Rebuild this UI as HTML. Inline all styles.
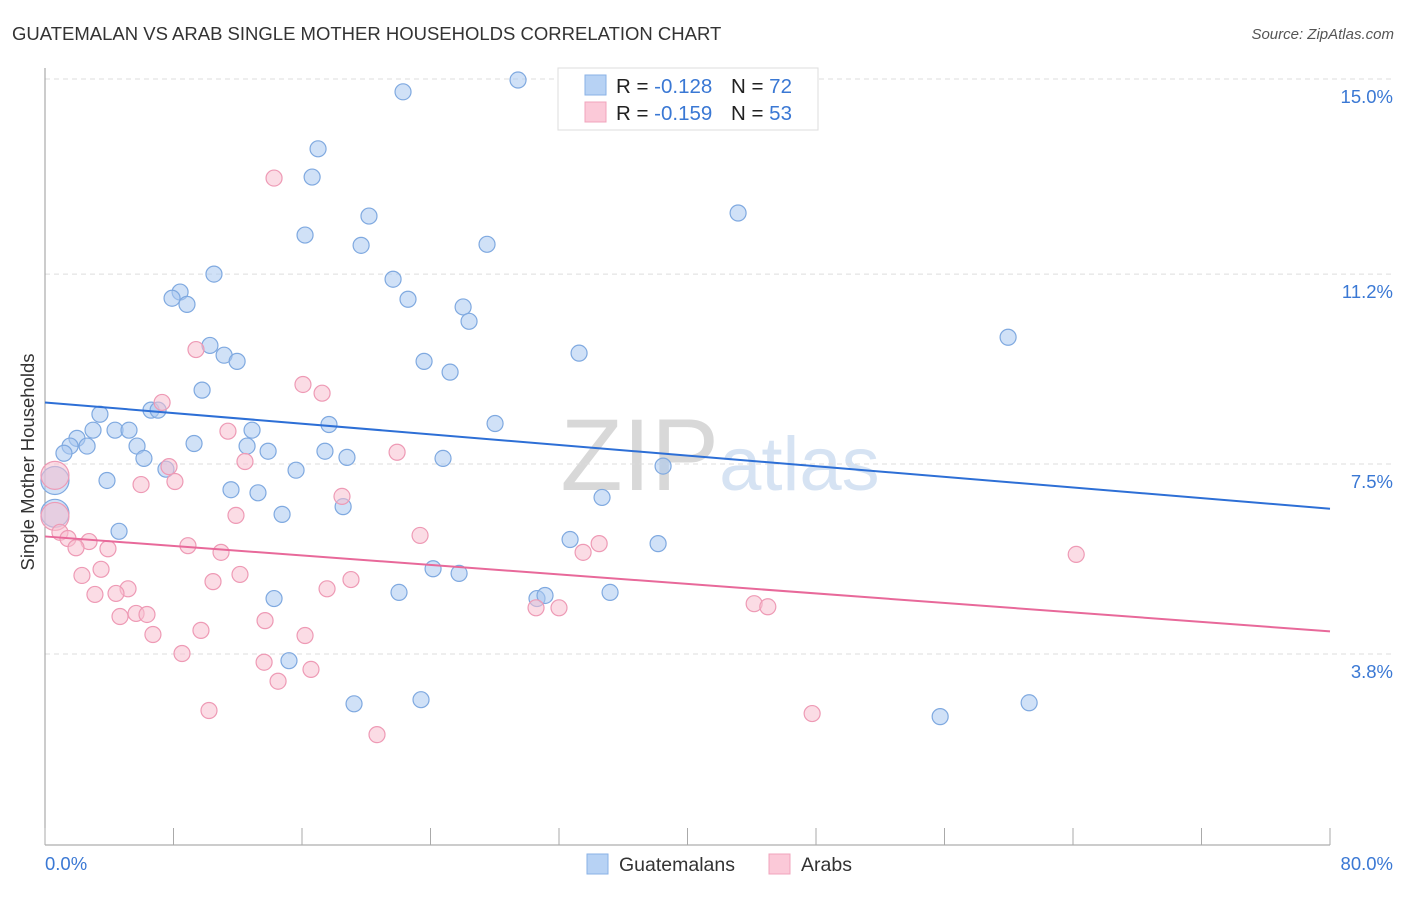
<!DOCTYPE html>
<html><head><meta charset="utf-8">
<style>
body{margin:0;background:#fff;font-family:"Liberation Sans",sans-serif;}
svg text{font-family:"Liberation Sans",sans-serif;}
</style></head>
<body>
<svg id="chart" width="1406" height="892">
<text x="12" y="40" font-size="18.5" fill="#333">GUATEMALAN VS ARAB SINGLE MOTHER HOUSEHOLDS CORRELATION CHART</text>
<text x="1394" y="39" font-size="15" fill="#555" font-style="italic" text-anchor="end">Source: ZipAtlas.com</text>
<text x="720" y="490" font-size="102" fill="#ddd" text-anchor="middle" font-family="Liberation Serif"><tspan fill="#d8d8d8">ZIP</tspan><tspan fill="#d6e3f3" font-family="Liberation Sans" font-size="76">atlas</tspan></text>
<g id="grid"></g>
<line x1="45" y1="68" x2="45" y2="845" stroke="#999"/>
<line x1="45" y1="845" x2="1330" y2="845" stroke="#999"/>
<g id="xticks"></g>
<text x="28" y="456" font-size="18.5" fill="#333" text-anchor="middle" transform="rotate(-90 34 456)">Single Mother Households</text>
<text x="45" y="870" font-size="18.5" fill="#3a78d4">0.0%</text>
<text x="1393" y="870" font-size="18.5" fill="#3a78d4" text-anchor="end">80.0%</text>
<g id="pts"></g>
<g id="lines"></g>
<g>
<rect x="558" y="68" width="260" height="62" fill="#fff" stroke="#ddd"/>
<rect x="585" y="75" width="21" height="20" fill="#b7d2f4" stroke="#8ab2e6"/>
<rect x="585" y="102" width="21" height="20" fill="#fbc9d8" stroke="#f0a4bc"/>
<text x="616" y="93" font-size="20.5" fill="#222">R = <tspan fill="#3a78d4">-0.128</tspan><tspan x="731">N = </tspan><tspan fill="#3a78d4">72</tspan></text>
<text x="616" y="120" font-size="20.5" fill="#222">R = <tspan fill="#3a78d4">-0.159</tspan><tspan x="731">N = </tspan><tspan fill="#3a78d4">53</tspan></text>
</g>
<g>
<rect x="587" y="854" width="21" height="20" fill="#b7d2f4" stroke="#8ab2e6"/>
<text x="619" y="871" font-size="19.5" fill="#333">Guatemalans</text>
<rect x="769" y="854" width="21" height="20" fill="#fbc9d8" stroke="#f0a4bc"/>
<text x="801" y="871" font-size="19.5" fill="#333">Arabs</text>
</g>
</svg>
<script>
const yTicks=[15.0,11.2,7.5,3.8];
const yTickLabels=["15.0%","11.2%","7.5%","3.8%"];
const xTickVals=[0,8,16,24,32,40,48,56,64,72,80];
const blueX=[29.45,22.29,17.0,16.63,43.15,20.17,16.19,19.68,27.52,10.52,21.67,8.41,7.91,8.84,22.6,26.03,26.4,59.96,10.27,11.15,11.96,33.25,23.6,25.22,9.78,6.6,7.04,3.42,28.02,17.68,2.99,4.36,5.23,12.89,9.28,1.99,1.56,2.62,5.73,12.58,13.89,17.43,1.18,6.16,18.8,24.78,7.53,15.63,38.48,3.86,0.62,11.58,13.26,34.68,18.56,14.76,0.62,4.61,32.69,38.17,24.16,25.78,30.63,31.13,35.18,22.04,14.26,15.19,19.24,23.41,55.73,61.27];
const blueY=[14.98,14.75,13.64,13.09,12.39,12.33,11.96,11.76,11.78,11.2,11.1,10.85,10.73,10.61,10.71,10.56,10.28,9.97,9.81,9.62,9.5,9.66,9.5,9.29,8.94,8.55,8.55,8.47,8.29,8.27,8.16,8.16,8.16,8.16,7.9,8.0,7.85,7.85,7.85,7.85,7.75,7.75,7.71,7.61,7.63,7.61,7.4,7.38,7.46,7.18,7.18,7.0,6.94,6.85,6.67,6.52,6.54,6.19,6.03,5.95,5.46,5.37,4.88,4.94,5.0,5.0,4.88,3.67,2.83,2.91,2.58,2.85];
const blueBig=[50,56];
const pinkX=[14.26,9.4,16.06,17.25,7.29,11.39,21.92,12.45,7.72,5.98,8.09,18.49,0.62,11.89,23.35,0.62,0.93,1.43,2.74,1.93,3.92,8.9,10.96,34.5,33.5,64.2,2.3,3.49,12.14,19.05,10.46,5.17,17.56,3.11,4.42,5.67,6.35,4.67,13.7,30.57,32.0,44.15,45.0,6.72,16.19,9.71,8.53,13.64,16.56,14.51,10.21,47.76,20.67];
const pinkY=[13.07,9.73,9.05,8.88,8.7,8.14,7.73,7.55,7.45,7.1,7.16,6.87,7.28,6.5,6.11,6.48,6.17,6.05,5.99,5.87,5.85,5.91,5.78,5.95,5.78,5.74,5.33,5.45,5.35,5.25,5.21,5.07,5.07,4.96,4.98,4.59,4.57,4.53,4.45,4.7,4.7,4.78,4.72,4.18,4.16,4.26,3.81,3.64,3.5,3.27,2.7,2.64,2.23];
const pinkBig=[12,15];
const blueTrend=[8.70,6.63];
const pinkTrend=[6.09,4.24];
const NS='http://www.w3.org/2000/svg';
const X=v=>45+(v/80)*1285;
const Y=v=>79+(15-v)*51.34;
function mk(tag,attrs,parent){const e=document.createElementNS(NS,tag);for(const k in attrs)e.setAttribute(k,attrs[k]);parent.appendChild(e);return e;}
const grid=document.getElementById('grid');
yTicks.forEach((t,i)=>{
  const l=mk('line',{x1:45,x2:1393,y1:Y(t),y2:Y(t),stroke:'#ddd','stroke-dasharray':'5,4'},grid);
  
  
  const tx=mk('text',{x:1393,y:Y(t)+24,'font-size':18.5,fill:'#3a78d4','text-anchor':'end'},grid);
  tx.textContent=yTickLabels[i];
  
  
});
const xt=document.getElementById('xticks');
xTickVals.forEach(v=>{
  const l=mk('line',{x1:X(v),x2:X(v),y1:828,y2:845,stroke:'#aaa'},xt);
  
  
});
const pts=document.getElementById('pts');
function drawSeries(xs,ys,big,fill,stroke,name){
  xs.forEach((x,i)=>{
    const c=mk('circle',{cx:X(x),cy:Y(ys[i]),r:big.includes(i)?14:8,fill:fill,'fill-opacity':0.55,stroke:stroke,'stroke-width':1.2},pts);
    
    
  });
}
drawSeries(blueX,blueY,blueBig,'#a9c8f0','#7fa9e0','guatemalan-point');
drawSeries(pinkX,pinkY,pinkBig,'#f8bfd0','#ee9ab5','arab-point');
const lines=document.getElementById('lines');
const bl=mk('line',{x1:X(0),y1:Y(blueTrend[0]),x2:X(80),y2:Y(blueTrend[1]),stroke:'#2d6fd6','stroke-width':2},lines);


const pl=mk('line',{x1:X(0),y1:Y(pinkTrend[0]),x2:X(80),y2:Y(pinkTrend[1]),stroke:'#e8699a','stroke-width':2},lines);


</script>
</body></html>
